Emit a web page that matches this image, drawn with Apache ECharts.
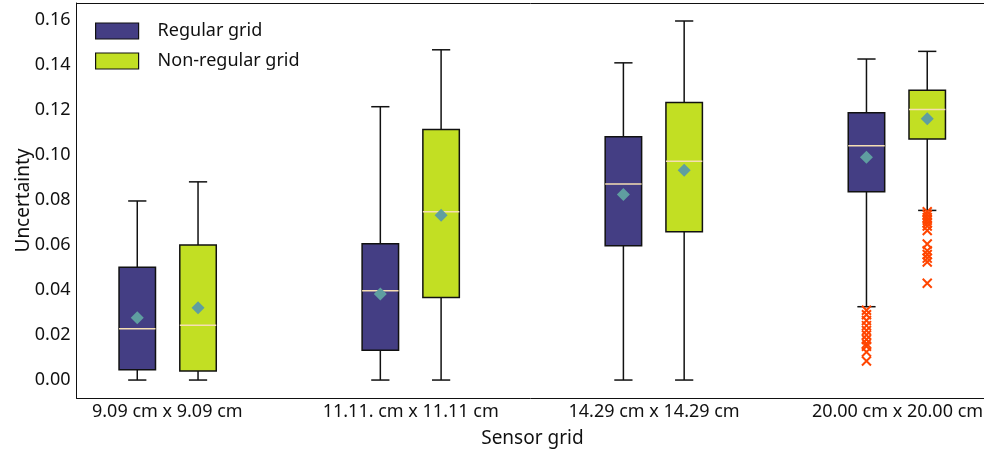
<!DOCTYPE html>
<html>
<head>
<meta charset="utf-8">
<script src="https://cdn.jsdelivr.net/npm/echarts@6/dist/echarts.min.js"></script>
<style>
html,body{margin:0;padding:0;background:#fff;}
#chart{width:984px;height:451px;}
</style>
</head>
<body>
<div id="chart"></div>
<script>
// ---- data ----
const categories = ['9.09 cm x 9.09 cm', '11.11. cm x 11.11 cm', '14.29 cm x 14.29 cm', '20.00 cm x 20.00 cm'];
const seriesNames = ['Regular grid', 'Non-regular grid'];
const yTicks = [0.00, 0.02, 0.04, 0.06, 0.08, 0.10, 0.12, 0.14, 0.16];

const regularLow    = [0.0000, 0.0000, 0.0000, 0.0326];
const regularQ1     = [0.0046, 0.0133, 0.0597, 0.0837];
const regularMedian = [0.0228, 0.0397, 0.0871, 0.1041];
const regularQ3     = [0.0501, 0.0606, 0.1081, 0.1188];
const regularHigh   = [0.0796, 0.1215, 0.1410, 0.1427];
const regularMean   = [0.0277, 0.0382, 0.0825, 0.0990];
const regularOutliers = [[], [], [], [0.0310, 0.0290, 0.0265, 0.0242, 0.0220, 0.0200, 0.0180, 0.0162, 0.0150, 0.0125, 0.0085]];

const nonLow    = [0.0000, 0.0000, 0.0000, 0.0754];
const nonQ1     = [0.0040, 0.0367, 0.0659, 0.1072];
const nonMedian = [0.0244, 0.0748, 0.0973, 0.1203];
const nonQ3     = [0.0600, 0.1114, 0.1234, 0.1288];
const nonHigh   = [0.0881, 0.1468, 0.1596, 0.1461];
const nonMean   = [0.0321, 0.0733, 0.0933, 0.1161];
const nonOutliers = [[], [], [], [0.0748, 0.0735, 0.0722, 0.0710, 0.0698, 0.0685, 0.0665, 0.0605, 0.0575, 0.0558, 0.0542, 0.0525, 0.0430]];

// ---- styling constants ----
const OFFSET = 0.125, BOX_W = 0.15, CAP_W = 0.075;
const COLORS = ['#443e84', '#c2df23'];
const MEDIAN_COLOR = '#f5deb3';
const MEAN_COLOR = '#5f9ea0';
const OUT_COLOR = '#ff4500';
const FONT = 'Noto Sans';

function boxData(sign, low, q1, med, q3, high) {
  return categories.map((c, i) => [i + 1 + sign * OFFSET, low[i], q1[i], med[i], q3[i], high[i]]);
}
function pointData(sign, arr) {
  return categories.map((c, i) => [i + 1 + sign * OFFSET, arr[i]]);
}
function outlierData(sign, arr) {
  const out = [];
  arr.forEach((list, i) => list.forEach(v => out.push([i + 1 + sign * OFFSET, v])));
  return out;
}

function makeRender(color) {
  return function (params, api) {
    const x = api.value(0);
    const pLow = api.coord([x, api.value(1)]);
    const pQ1 = api.coord([x, api.value(2)]);
    const pMed = api.coord([x, api.value(3)]);
    const pQ3 = api.coord([x, api.value(4)]);
    const pHigh = api.coord([x, api.value(5)]);
    const hw = api.size([BOX_W, 0])[0] / 2;
    const cw = api.size([CAP_W, 0])[0] / 2;
    const cx = pQ1[0];
    const ls = { stroke: '#111', lineWidth: 1.5 };
    return {
      type: 'group',
      children: [
        { type: 'line', shape: { x1: cx, y1: pLow[1], x2: cx, y2: pQ1[1] }, style: ls },
        { type: 'line', shape: { x1: cx, y1: pQ3[1], x2: cx, y2: pHigh[1] }, style: ls },
        { type: 'line', shape: { x1: cx - cw, y1: pLow[1], x2: cx + cw, y2: pLow[1] }, style: ls },
        { type: 'line', shape: { x1: cx - cw, y1: pHigh[1], x2: cx + cw, y2: pHigh[1] }, style: ls },
        { type: 'rect', shape: { x: cx - hw, y: pQ3[1], width: 2 * hw, height: pQ1[1] - pQ3[1] },
          style: { fill: color, stroke: '#111', lineWidth: 1.5 } },
        { type: 'line', shape: { x1: cx - hw, y1: pMed[1], x2: cx + hw, y2: pMed[1] },
          style: { stroke: MEDIAN_COLOR, lineWidth: 1.5 } }
      ]
    };
  };
}

const chart = echarts.init(document.getElementById('chart'), null, { renderer: 'canvas' });
const option = {
  animation: false,
  backgroundColor: '#fff',
  textStyle: { fontFamily: FONT },
  grid: [
    { left: 76.5, top: 3, width: 911.5, height: 395, outerBoundsMode: 'none', containLabel: false },
    { left: 45.6, top: 3, width: 973.6, height: 395, outerBoundsMode: 'none', containLabel: false }
  ],
  legend: {
    left: 95, top: 21, padding: 0, orient: 'vertical', itemWidth: 43, itemHeight: 16, itemGap: 10,
    textStyle: { fontFamily: FONT, fontSize: 18, color: '#111', padding: [0, 0, 0, 14], lineHeight: 20 },
    data: [
      { name: seriesNames[0], icon: 'rect', itemStyle: { color: COLORS[0], borderColor: '#111', borderWidth: 1.2 } },
      { name: seriesNames[1], icon: 'rect', itemStyle: { color: COLORS[1], borderColor: '#111', borderWidth: 1.2 } }
    ]
  },
  xAxis: [
    { type: 'value', gridIndex: 0, min: 0.625, max: 4.375, position: 'bottom',
      axisLine: { show: true, onZero: false, lineStyle: { color: '#111', width: 1 } },
      axisTick: { show: false }, axisLabel: { show: false }, splitLine: { show: false } },
    { type: 'value', gridIndex: 0, min: 0.625, max: 4.375, position: 'top',
      axisLine: { show: true, onZero: false, lineStyle: { color: '#111', width: 1 } },
      axisTick: { show: false }, axisLabel: { show: false }, splitLine: { show: false } },
    { type: 'category', gridIndex: 1, data: categories,
      axisLine: { show: false }, axisTick: { show: false }, splitLine: { show: false },
      axisLabel: { fontFamily: FONT, fontSize: 18, color: '#111', margin: 5 },
      name: 'Sensor grid', nameLocation: 'middle', nameGap: 31, nameMoveOverlap: false,
      nameTextStyle: { fontFamily: FONT, fontSize: 19, color: '#111' } }
  ],
  yAxis: [
    { type: 'value', gridIndex: 0, min: -0.00798, max: 0.1676,
      axisLine: { show: true, onZero: false, lineStyle: { color: '#111', width: 1 } },
      axisTick: { show: false }, splitLine: { show: false },
      axisLabel: { fontFamily: FONT, fontSize: 18, color: '#111', margin: 6,
        customValues: yTicks, formatter: v => v.toFixed(2) },
      name: 'Uncertainty', nameLocation: 'middle', nameGap: 43, nameMoveOverlap: false,
      nameTextStyle: { fontFamily: FONT, fontSize: 19, color: '#111' } },
    { type: 'value', gridIndex: 1, min: -0.00798, max: 0.1676, show: false }
  ],
  series: [
    { name: seriesNames[0], type: 'custom', xAxisIndex: 0, yAxisIndex: 0,
      itemStyle: { color: COLORS[0] }, renderItem: makeRender(COLORS[0]),
      encode: { x: 0, y: [1, 2, 3, 4, 5] },
      data: boxData(-1, regularLow, regularQ1, regularMedian, regularQ3, regularHigh) },
    { name: seriesNames[1], type: 'custom', xAxisIndex: 0, yAxisIndex: 0,
      itemStyle: { color: COLORS[1] }, renderItem: makeRender(COLORS[1]),
      encode: { x: 0, y: [1, 2, 3, 4, 5] },
      data: boxData(1, nonLow, nonQ1, nonMedian, nonQ3, nonHigh) },
    { name: 'mean-r', type: 'scatter', xAxisIndex: 0, yAxisIndex: 0, z: 5,
      symbol: 'diamond', symbolSize: [13, 13], itemStyle: { color: MEAN_COLOR, opacity: 1 },
      data: pointData(-1, regularMean) },
    { name: 'mean-n', type: 'scatter', xAxisIndex: 0, yAxisIndex: 0, z: 5,
      symbol: 'diamond', symbolSize: [13, 13], itemStyle: { color: MEAN_COLOR, opacity: 1 },
      data: pointData(1, nonMean) },
    { name: 'out-r', type: 'scatter', xAxisIndex: 0, yAxisIndex: 0, z: 6,
      symbol: 'path://M0,0L10,10M0,10L10,0', symbolSize: 9,
      itemStyle: { color: 'none', borderColor: OUT_COLOR, borderWidth: 2, opacity: 1 },
      data: outlierData(-1, regularOutliers) },
    { name: 'out-n', type: 'scatter', xAxisIndex: 0, yAxisIndex: 0, z: 6,
      symbol: 'path://M0,0L10,10M0,10L10,0', symbolSize: 9,
      itemStyle: { color: 'none', borderColor: OUT_COLOR, borderWidth: 2, opacity: 1 },
      data: outlierData(1, nonOutliers) }
  ]
};
chart.setOption(option);
</script>
</body>
</html>
